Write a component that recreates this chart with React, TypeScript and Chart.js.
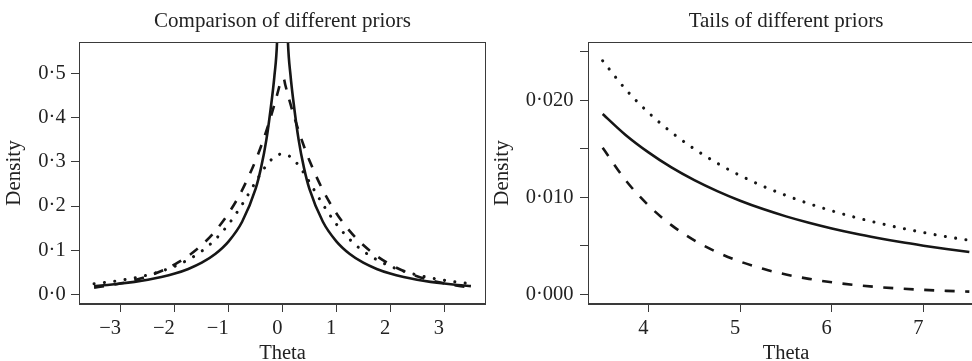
import React, { useEffect, useRef } from 'react';
import { Chart, registerables } from 'chart.js';

Chart.register(...registerables);

// ---------- data ----------
const thetaLeft = [
  -3.5, -3.25, -3, -2.75, -2.5, -2.25, -2, -1.75, -1.5, -1.25, -1, -0.75, -0.5, -0.4, -0.3, -0.2, -0.15, -0.1, -0.05, -0.025,
  0.025, 0.05, 0.1, 0.15, 0.2, 0.3, 0.4, 0.5, 0.75, 1, 1.25, 1.5, 1.75, 2, 2.25, 2.5, 2.75, 3, 3.25, 3.5,
];
const horseshoeLeft = [
  0.0186, 0.0211, 0.0243, 0.0282, 0.033, 0.0391, 0.047, 0.0575, 0.0716, 0.0913, 0.1201, 0.1645, 0.239, 0.286, 0.35, 0.44, 0.495, 0.575, 0.796, 0.975,
  0.975, 0.796, 0.575, 0.495, 0.44, 0.35, 0.286, 0.239, 0.1645, 0.1201, 0.0913, 0.0716, 0.0575, 0.047, 0.0391, 0.033, 0.0282, 0.0243, 0.0211, 0.0186,
];
const laplaceLeft = [
  0.0151, 0.0194, 0.0249, 0.032, 0.041, 0.0527, 0.0677, 0.0869, 0.1116, 0.1433, 0.1839, 0.2362, 0.3033, 0.3352, 0.3704, 0.4094, 0.4304, 0.4524, 0.4756, 0.4877,
  0.4877, 0.4756, 0.4524, 0.4304, 0.4094, 0.3704, 0.3352, 0.3033, 0.2362, 0.1839, 0.1433, 0.1116, 0.0869, 0.0677, 0.0527, 0.041, 0.032, 0.0249, 0.0194, 0.0151,
];
const cauchyLeft = [
  0.024, 0.0275, 0.0318, 0.0372, 0.0439, 0.0524, 0.0637, 0.0784, 0.0979, 0.1242, 0.1592, 0.2037, 0.2546, 0.2744, 0.292, 0.3061, 0.3113, 0.3152, 0.3175, 0.3181,
  0.3181, 0.3175, 0.3152, 0.3113, 0.3061, 0.292, 0.2744, 0.2546, 0.2037, 0.1592, 0.1242, 0.0979, 0.0784, 0.0637, 0.0524, 0.0439, 0.0372, 0.0318, 0.0275, 0.024,
];

const thetaRight = [3.5, 3.75, 4, 4.25, 4.5, 4.75, 5, 5.25, 5.5, 5.75, 6, 6.25, 6.5, 6.75, 7, 7.25, 7.5];
const horseshoeRight = [
  0.01858, 0.01642, 0.01462, 0.01307, 0.01176, 0.01063, 0.00964, 0.00878, 0.00803, 0.00737, 0.00678, 0.00626, 0.0058, 0.00538, 0.00501, 0.00467,
  0.004365,
];
const cauchyRight = [
  0.02406, 0.02113, 0.01872, 0.0167, 0.01498, 0.01351, 0.01224, 0.01114, 0.01019, 0.009345, 0.008603, 0.007945, 0.00736, 0.006836, 0.006366,
  0.005943, 0.00556,
];
const laplaceRight = [
  0.0151, 0.01176, 0.00916, 0.00713, 0.00555, 0.00433, 0.00337, 0.00262, 0.00204, 0.00159, 0.00124, 0.000965, 0.00075, 0.000585, 0.000456, 0.000355,
  0.000277,
];

const xTicksLeft = [-3, -2, -1, 0, 1, 2, 3];
const xLabelsLeft = ['\u22123', '\u22122', '\u22121', '0', '1', '2', '3'];
const yTicksLeft = [0, 0.1, 0.2, 0.3, 0.4, 0.5];
const yLabelsLeft = ['0\u00b70', '0\u00b71', '0\u00b72', '0\u00b73', '0\u00b74', '0\u00b75'];

const xTicksRight = [4, 5, 6, 7];
const xLabelsRight = ['4', '5', '6', '7'];
const yTicksRight = [0, 0.005, 0.01, 0.015, 0.02, 0.025];
const yLabelsRight = ['0\u00b7000', '', '0\u00b7010', '', '0\u00b7020', ''];

const xRangeLeft = [-3.78, 3.78];
const yRangeLeft = [-0.022, 0.572];
const xRangeRight = [3.34, 7.66];
const yRangeRight = [-0.001, 0.026];

const titleLeft = 'Comparison of different priors';
const titleRight = 'Tails of different priors';
const xTitle = 'Theta';
const yTitle = 'Density';

// ---------- styles ----------
const FONT = '"Liberation Serif", "Times New Roman", Times, serif';
const TEXT = '#222222';
const AXIS = '#3a3a3a';
const LINE = '#161616';
const LW = 2.6;

const boxPlugin = {
  id: 'plotBox',
  afterDraw(chart: any) {
    const { ctx, chartArea: a } = chart;
    ctx.save();
    ctx.strokeStyle = AXIS;
    ctx.lineWidth = 1;
    const l = Math.round(a.left) + 0.5;
    const t = Math.round(a.top) + 0.5;
    const r = Math.round(a.right) - 0.5;
    const b = Math.round(a.bottom) - 0.5;
    ctx.strokeRect(l, t, r - l, b - t);
    ctx.restore();
  },
};

type PanelProps = {
  width: number;
  left: number;
  title: string;
  theta: number[];
  horseshoe: number[];
  laplace: number[];
  cauchy: number[];
  xTicks: number[];
  xLabels: string[];
  yTicks: number[];
  yLabels: string[];
  xRange: number[];
  yRange: number[];
  yAxisWidth: number;
  yTitlePad: number;
  yTickPad: number;
};

function Panel(p: PanelProps) {
  const ref = useRef<HTMLCanvasElement | null>(null);
  useEffect(() => {
    if (!ref.current) return;
    const pts = (ys: number[]) => p.theta.map((x, i) => ({ x, y: ys[i] }));
    const common = {
      pointRadius: 0,
      fill: false,
      borderColor: LINE,
      borderWidth: LW,
      cubicInterpolationMode: 'monotone' as const,
      clip: 0,
    };
    const chart = new Chart(ref.current, {
      type: 'line',
      data: {
        datasets: [
          { ...common, label: 'Horseshoe', data: pts(p.horseshoe), borderJoinStyle: 'round' },
          { ...common, label: 'Laplace', data: pts(p.laplace), borderDash: [10, 10.5], borderCapStyle: 'butt' },
          {
            ...common,
            label: 'Cauchy',
            data: pts(p.cauchy),
            borderWidth: 3.1,
            borderDash: [0.01, 10.4],
            borderCapStyle: 'round',
          },
        ],
      },
      options: {
        responsive: false,
        animation: false,
        events: [],
        layout: { padding: 0 },
        plugins: {
          legend: { display: false },
          tooltip: { enabled: false },
          title: {
            display: true,
            text: p.title,
            fullSize: false,
            color: TEXT,
            font: { family: FONT, size: 21, weight: 'normal', lineHeight: 1.2 },
            padding: { top: 8.6, bottom: 8.2 },
          },
        },
        scales: {
          x: {
            type: 'linear',
            position: 'bottom',
            min: p.xRange[0],
            max: p.xRange[1],
            afterBuildTicks: (s: any) => {
              s.ticks = p.xTicks.map((v) => ({ value: v }));
            },
            afterFit: (s: any) => {
              s.height = 57;
            },
            grid: { drawOnChartArea: false, drawTicks: true, tickLength: 8, color: AXIS, lineWidth: 1 },
            border: { display: true, color: AXIS, width: 1 },
            ticks: {
              autoSkip: false,
              maxRotation: 0,
              minRotation: 0,
              align: 'end',
              padding: 4,
              color: TEXT,
              font: { family: FONT, size: 20.5 },
              callback: (_v: any, i: number) => p.xLabels[i],
            },
            title: {
              display: true,
              text: xTitle,
              color: TEXT,
              font: { family: FONT, size: 20.5, lineHeight: 0.6 },
              padding: { top: 0, bottom: 1.4 },
            },
          },
          y: {
            type: 'linear',
            position: 'left',
            min: p.yRange[0],
            max: p.yRange[1],
            afterBuildTicks: (s: any) => {
              s.ticks = p.yTicks.map((v) => ({ value: v }));
            },
            afterFit: (s: any) => {
              s.width = p.yAxisWidth;
            },
            grid: { drawOnChartArea: false, drawTicks: true, tickLength: 8, color: AXIS, lineWidth: 1 },
            border: { display: true, color: AXIS, width: 1 },
            ticks: {
              autoSkip: false,
              padding: p.yTickPad,
              color: TEXT,
              font: { family: FONT, size: 20.5 },
              callback: (_v: any, i: number) => p.yLabels[i],
            },
            title: {
              display: true,
              text: yTitle,
              color: TEXT,
              font: { family: FONT, size: 21, lineHeight: 1.2 },
              padding: { top: p.yTitlePad, bottom: 0 },
            },
          },
        },
      } as any,
      plugins: [boxPlugin],
    });
    return () => chart.destroy();
  }, []);
  return (
    <canvas
      ref={ref}
      width={p.width}
      height={361}
      style={{ position: 'absolute', left: p.left, top: 0, width: p.width, height: 361 }}
    />
  );
}

export default function App() {
  return (
    <div
      style={{
        position: 'fixed',
        left: 0,
        top: 0,
        width: 972,
        height: 361,
        overflow: 'hidden',
        background: '#ffffff',
      }}
    >
      <Panel
        width={486}
        left={0}
        title={titleLeft}
        theta={thetaLeft}
        horseshoe={horseshoeLeft}
        laplace={laplaceLeft}
        cauchy={cauchyLeft}
        xTicks={xTicksLeft}
        xLabels={xLabelsLeft}
        yTicks={yTicksLeft}
        yLabels={yLabelsLeft}
        xRange={xRangeLeft}
        yRange={yRangeLeft}
        yAxisWidth={79}
        yTitlePad={1.8}
        yTickPad={5.3}
      />
      <Panel
        width={498}
        left={486}
        title={titleRight}
        theta={thetaRight}
        horseshoe={horseshoeRight}
        laplace={laplaceRight}
        cauchy={cauchyRight}
        xTicks={xTicksRight}
        xLabels={xLabelsRight}
        yTicks={yTicksRight}
        yLabels={yLabelsRight}
        xRange={xRangeRight}
        yRange={yRangeRight}
        yAxisWidth={102}
        yTitlePad={3.8}
        yTickPad={6.5}
      />
    </div>
  );
}
